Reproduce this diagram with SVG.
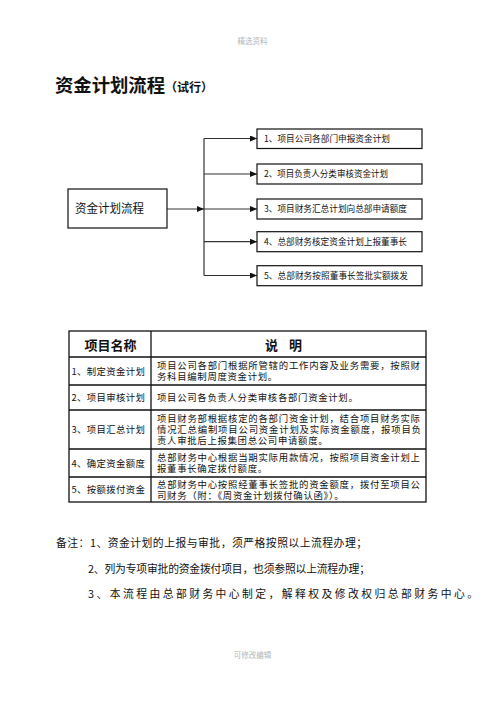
<svg xmlns="http://www.w3.org/2000/svg" width="496" height="702" viewBox="0 0 496 702">
<style>
text{font-family:"Noto Sans CJK SC","Noto Sans",sans-serif;fill:#111}
.wm{fill:#b5b5b5;font-size:7.5px}
.title{font-size:18px;font-weight:bold}
.sub{font-size:12px;font-weight:bold}
.box{fill:#fff;stroke:#111;stroke-width:1.2}
.bt{font-size:8.7px}
.conn{stroke:#333;stroke-width:1.2;fill:none}
.tb{fill:none;stroke:#111;stroke-width:1.3}
.th{font-size:13px;font-weight:bold}
.td{font-size:9.4px}
.note{font-size:10.8px}
</style>
<defs>
<marker id="arr" markerUnits="userSpaceOnUse" markerWidth="7" markerHeight="6" refX="7" refY="3" orient="auto">
<path d="M0,0 L7,3 L0,6 z" fill="#111"/>
</marker>
</defs>
<rect width="496" height="702" fill="#fff"/>
<text class="wm" x="252.5" y="44" text-anchor="middle">精选资料</text>
<text class="title" x="55" y="92" textLength="110" lengthAdjust="spacingAndGlyphs">资金计划流程</text>
<text class="sub" x="165" y="91.5">（试行）</text>

<g id="connectors">
<line class="conn" x1="167" y1="209" x2="204" y2="209" marker-end="url(#arr)"/>
<line class="conn" x1="204" y1="138.5" x2="204" y2="275.5"/>
<line class="conn" x1="204" y1="138.5" x2="257" y2="138.5" marker-end="url(#arr)"/>
<line class="conn" x1="204" y1="174" x2="257" y2="174" marker-end="url(#arr)"/>
<line class="conn" x1="204" y1="209" x2="257" y2="209" marker-end="url(#arr)"/>
<line class="conn" x1="204" y1="241.7" x2="257" y2="241.7" marker-end="url(#arr)"/>
<line class="conn" x1="204" y1="275.5" x2="257" y2="275.5" marker-end="url(#arr)"/>
</g>

<g id="main">
<rect class="box" x="68" y="189" width="99" height="39"/>
<text x="75" y="212.5" font-size="12" textLength="69" lengthAdjust="spacingAndGlyphs">资金计划流程</text>
</g>
<g id="step1">
<rect class="box" x="257" y="129" width="165" height="19.5"/>
<text class="bt" x="264" y="141.7" textLength="126" lengthAdjust="spacingAndGlyphs">1、项目公司各部门申报资金计划</text>
</g>
<g id="step2">
<rect class="box" x="257" y="164" width="165" height="20"/>
<text class="bt" x="264" y="177.2" textLength="124" lengthAdjust="spacingAndGlyphs">2、项目负责人分类审核资金计划</text>
</g>
<g id="step3">
<rect class="box" x="257" y="199" width="165" height="20"/>
<text class="bt" x="264" y="212.2" textLength="143" lengthAdjust="spacingAndGlyphs">3、项目财务汇总计划向总部申请额度</text>
</g>
<g id="step4">
<rect class="box" x="257" y="231.7" width="165" height="20"/>
<text class="bt" x="264" y="244.9" textLength="143" lengthAdjust="spacingAndGlyphs">4、总部财务核定资金计划上报董事长</text>
</g>
<g id="step5">
<rect class="box" x="257" y="265.7" width="165" height="20"/>
<text class="bt" x="264" y="278.9" textLength="144" lengthAdjust="spacingAndGlyphs">5、总部财务按照董事长签批实额拨发</text>
</g>

<g id="table">
<rect class="tb" x="69" y="331" width="357" height="171"/>
<line class="tb" x1="151" y1="331" x2="151" y2="502"/>
<line class="tb" x1="69" y1="357" x2="426" y2="357"/>
<line class="tb" x1="69" y1="385" x2="426" y2="385"/>
<line class="tb" x1="69" y1="410" x2="426" y2="410"/>
<line class="tb" x1="69" y1="449" x2="426" y2="449"/>
<line class="tb" x1="69" y1="477" x2="426" y2="477"/>
<text class="th" x="110.5" y="349.5" text-anchor="middle">项目名称</text>
<text class="th" x="265" y="349.5">说</text>
<text class="th" x="289" y="349.5">明</text>

<text class="td" x="71.5" y="374.6" textLength="73.5" lengthAdjust="spacing">1、制定资金计划</text>
<text class="td" x="71.5" y="401" textLength="73.5" lengthAdjust="spacing">2、项目审核计划</text>
<text class="td" x="71.5" y="433" textLength="73.5" lengthAdjust="spacing">3、项目汇总计划</text>
<text class="td" x="71.5" y="466.6" textLength="73.5" lengthAdjust="spacing">4、确定资金额度</text>
<text class="td" x="71.5" y="493" textLength="73.5" lengthAdjust="spacing">5、按额拨付资金</text>

<text class="td" x="157" y="369" textLength="263" lengthAdjust="spacing">项目公司各部门根据所管辖的工作内容及业务需要，按照财</text>
<text class="td" x="157" y="380" letter-spacing="0.7">务科目编制周度资金计划。</text>
<text class="td" x="157" y="401" letter-spacing="0.7">项目公司各负责人分类审核各部门资金计划。</text>
<text class="td" x="157" y="422" textLength="263" lengthAdjust="spacing">项目财务部根据核定的各部门资金计划，结合项目财务实际</text>
<text class="td" x="157" y="433" textLength="264" lengthAdjust="spacing">情况汇总编制项目公司资金计划及实际资金额度，报项目负</text>
<text class="td" x="157" y="444" letter-spacing="0.7">责人审批后上报集团总公司申请额度。</text>
<text class="td" x="157" y="461" textLength="263" lengthAdjust="spacing">总部财务中心根据当期实际用款情况，按照项目资金计划上</text>
<text class="td" x="157" y="472" letter-spacing="0.7">报董事长确定拨付额度。</text>
<text class="td" x="157" y="487.5" textLength="263" lengthAdjust="spacing">总部财务中心按照经董事长签批的资金额度，拨付至项目公</text>
<text class="td" x="157" y="498.5" letter-spacing="0.7">司财务（附：《周资金计划拨付确认函》）。</text>
</g>

<text class="note" x="56" y="547" textLength="311" lengthAdjust="spacing">备注：1、资金计划的上报与审批，须严格按照以上流程办理；</text>
<text class="note" x="88" y="572.5" textLength="282" lengthAdjust="spacing">2、列为专项审批的资金拨付项目，也须参照以上流程办理；</text>
<text class="note" x="88" y="598" textLength="390" lengthAdjust="spacing">3、本流程由总部财务中心制定，解释权及修改权归总部财务中心。</text>

<text class="wm" x="252.5" y="658" text-anchor="middle" font-size="6.2">可修改编辑</text>
</svg>
